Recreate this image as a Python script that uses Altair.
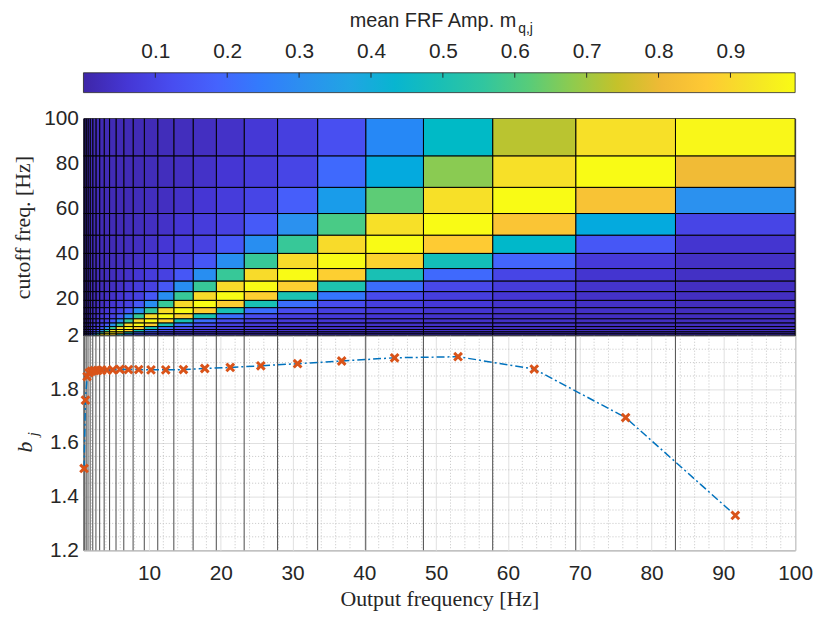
import altair as alt
import pandas as pd

# ---------------- data ----------------
# cell edges (output frequency on x, cutoff frequency on y), Hz
EDGES = [100.0, 83.33, 69.44, 57.87, 48.23, 40.19, 33.49, 27.91, 23.26, 19.38,
         16.15, 13.46, 11.22, 9.35, 7.79, 6.49, 5.41, 4.51, 3.76, 3.13,
         2.61, 2.17, 1.81, 1.51, 1.26, 1.05, 0.873]

# output frequencies (cell centres) and b_j values
CENTERS = [91.67, 76.39, 63.66, 53.05, 44.21, 36.84, 30.70, 25.58, 21.32, 17.77,
           14.80, 12.34, 10.28, 8.57, 7.14, 5.95, 4.96, 4.13, 3.44, 2.87,
           2.39, 1.99, 1.66, 1.38, 1.15, 0.96]
B_J = [1.33, 1.695, 1.876, 1.922, 1.918, 1.906, 1.896, 1.888, 1.882, 1.878,
       1.874, 1.873, 1.873, 1.874, 1.874, 1.875, 1.873, 1.872, 1.872, 1.871,
       1.870, 1.868, 1.862, 1.848, 1.76, 1.505]

# mean FRF amplitude m_{q,j}: one list per output-frequency column j
# (j = 0 is the 83-100 Hz column), rows q from the top (83-100 Hz cutoff) down
M_COLS = [
    [0.98, 0.81, 0.31, 0.10, 0.055, 0.04, 0.04, 0.035, 0.035, 0.03, 0.03, 0.03, 0.03,
     0.03, 0.03, 0.03, 0.03, 0.03, 0.03, 0.03, 0.03, 0.03, 0.03, 0.03, 0.03, 0.03],
    [0.92, 0.99, 0.84, 0.39, 0.15, 0.07, 0.055, 0.05, 0.045, 0.04, 0.04, 0.035, 0.035,
     0.03, 0.03, 0.03, 0.03, 0.03, 0.03, 0.03, 0.03, 0.03, 0.03, 0.03, 0.03, 0.03],
    [0.73, 0.92, 1.00, 0.85, 0.45, 0.19, 0.10, 0.075, 0.06, 0.05, 0.045, 0.04, 0.04,
     0.04, 0.035, 0.035, 0.03, 0.03, 0.03, 0.03, 0.03, 0.03, 0.03, 0.03, 0.03, 0.03],
    [0.46, 0.675, 0.92, 1.00, 0.87, 0.49, 0.20, 0.11, 0.08, 0.065, 0.055, 0.05, 0.045,
     0.04, 0.04, 0.04, 0.035, 0.035, 0.03, 0.03, 0.03, 0.03, 0.03, 0.03, 0.03, 0.03],
    [0.28, 0.39, 0.625, 0.92, 1.00, 0.89, 0.50, 0.21, 0.115, 0.085, 0.07, 0.06, 0.05,
     0.045, 0.04, 0.04, 0.04, 0.04, 0.035, 0.035, 0.03, 0.03, 0.03, 0.03, 0.03, 0.03],
    [0.13, 0.20, 0.34, 0.60, 0.91, 1.00, 0.88, 0.52, 0.23, 0.12, 0.085, 0.07, 0.06,
     0.05, 0.045, 0.04, 0.04, 0.04, 0.04, 0.04, 0.035, 0.035, 0.03, 0.03, 0.03, 0.03],
    [0.085, 0.10, 0.17, 0.31, 0.57, 0.91, 1.00, 0.88, 0.51, 0.21, 0.12, 0.085, 0.07,
     0.06, 0.05, 0.045, 0.04, 0.04, 0.04, 0.04, 0.04, 0.04, 0.04, 0.04, 0.04, 0.04],
    [0.065, 0.075, 0.10, 0.16, 0.30, 0.57, 0.91, 0.99, 0.88, 0.50, 0.21, 0.12, 0.085,
     0.07, 0.06, 0.05, 0.045, 0.04, 0.04, 0.04, 0.04, 0.04, 0.04, 0.04, 0.04, 0.04],
    [0.045, 0.06, 0.075, 0.09, 0.15, 0.30, 0.57, 0.91, 0.99, 0.88, 0.50, 0.21, 0.12,
     0.085, 0.07, 0.06, 0.05, 0.045, 0.04, 0.04, 0.04, 0.04, 0.04, 0.04, 0.04, 0.04],
    [0.035, 0.045, 0.06, 0.075, 0.09, 0.15, 0.30, 0.57, 0.91, 0.99, 0.88, 0.50, 0.21,
     0.12, 0.085, 0.07, 0.06, 0.05, 0.045, 0.04, 0.04, 0.04, 0.04, 0.04, 0.04, 0.04],
    [0.03, 0.035, 0.045, 0.06, 0.075, 0.09, 0.15, 0.30, 0.57, 0.91, 0.99, 0.88, 0.50,
     0.21, 0.12, 0.085, 0.07, 0.06, 0.05, 0.045, 0.04, 0.04, 0.04, 0.04, 0.04, 0.04],
    [0.025, 0.03, 0.035, 0.045, 0.06, 0.075, 0.09, 0.15, 0.30, 0.57, 0.91, 0.99, 0.88,
     0.50, 0.21, 0.12, 0.085, 0.07, 0.06, 0.05, 0.045, 0.04, 0.04, 0.04, 0.04, 0.04],
    [0.02, 0.025, 0.03, 0.035, 0.045, 0.06, 0.075, 0.09, 0.15, 0.30, 0.57, 0.91, 0.99,
     0.88, 0.50, 0.21, 0.12, 0.085, 0.07, 0.06, 0.05, 0.045, 0.04, 0.04, 0.04, 0.04],
    [0.02, 0.02, 0.025, 0.03, 0.035, 0.045, 0.06, 0.075, 0.09, 0.15, 0.30, 0.57, 0.91,
     0.99, 0.88, 0.50, 0.21, 0.12, 0.085, 0.07, 0.06, 0.05, 0.045, 0.04, 0.04, 0.04],
    [0.02, 0.02, 0.02, 0.025, 0.03, 0.035, 0.045, 0.06, 0.075, 0.09, 0.15, 0.30, 0.57,
     0.91, 0.99, 0.88, 0.50, 0.21, 0.12, 0.085, 0.07, 0.06, 0.05, 0.045, 0.04, 0.04],
    [0.02, 0.02, 0.02, 0.02, 0.025, 0.03, 0.035, 0.045, 0.06, 0.075, 0.09, 0.15, 0.30,
     0.57, 0.91, 0.99, 0.88, 0.50, 0.21, 0.12, 0.085, 0.07, 0.06, 0.05, 0.045, 0.04],
    [0.02, 0.02, 0.02, 0.02, 0.02, 0.025, 0.03, 0.035, 0.045, 0.06, 0.075, 0.09, 0.15,
     0.30, 0.57, 0.91, 0.99, 0.88, 0.50, 0.21, 0.12, 0.085, 0.07, 0.06, 0.05, 0.045],
    [0.02, 0.02, 0.02, 0.02, 0.02, 0.02, 0.025, 0.03, 0.035, 0.045, 0.06, 0.075, 0.09,
     0.15, 0.30, 0.57, 0.91, 0.99, 0.88, 0.50, 0.21, 0.12, 0.085, 0.07, 0.06, 0.05],
    [0.02, 0.02, 0.02, 0.02, 0.02, 0.02, 0.02, 0.025, 0.03, 0.035, 0.045, 0.06, 0.075,
     0.09, 0.15, 0.30, 0.57, 0.91, 0.99, 0.88, 0.50, 0.21, 0.12, 0.085, 0.07, 0.06],
    [0.02, 0.02, 0.02, 0.02, 0.02, 0.02, 0.02, 0.02, 0.025, 0.03, 0.035, 0.045, 0.06,
     0.075, 0.09, 0.15, 0.30, 0.57, 0.91, 0.99, 0.88, 0.50, 0.21, 0.12, 0.085, 0.07],
    [0.02, 0.02, 0.02, 0.02, 0.02, 0.02, 0.02, 0.02, 0.02, 0.025, 0.03, 0.035, 0.045,
     0.06, 0.075, 0.09, 0.15, 0.30, 0.57, 0.91, 0.99, 0.88, 0.50, 0.21, 0.12, 0.085],
    [0.02, 0.02, 0.02, 0.02, 0.02, 0.02, 0.02, 0.02, 0.02, 0.02, 0.025, 0.03, 0.035,
     0.045, 0.06, 0.075, 0.09, 0.15, 0.30, 0.57, 0.91, 0.99, 0.88, 0.50, 0.21, 0.12],
    [0.02, 0.02, 0.02, 0.02, 0.02, 0.02, 0.02, 0.02, 0.02, 0.02, 0.02, 0.025, 0.03,
     0.035, 0.045, 0.06, 0.075, 0.09, 0.15, 0.30, 0.57, 0.91, 0.99, 0.88, 0.50, 0.21],
    [0.02, 0.02, 0.02, 0.02, 0.02, 0.02, 0.02, 0.02, 0.02, 0.02, 0.02, 0.02, 0.025,
     0.03, 0.035, 0.045, 0.06, 0.075, 0.09, 0.15, 0.30, 0.57, 0.91, 0.99, 0.88, 0.50],
    [0.02, 0.02, 0.02, 0.02, 0.02, 0.02, 0.02, 0.02, 0.02, 0.02, 0.02, 0.02, 0.02,
     0.025, 0.03, 0.035, 0.045, 0.06, 0.075, 0.09, 0.15, 0.30, 0.57, 0.91, 0.99, 0.88],
    [0.02, 0.02, 0.02, 0.02, 0.02, 0.02, 0.02, 0.02, 0.02, 0.02, 0.02, 0.02, 0.02,
     0.02, 0.025, 0.03, 0.035, 0.045, 0.06, 0.075, 0.09, 0.15, 0.30, 0.57, 0.91, 0.99],
]

CB_TICKS = [0.1, 0.2, 0.3, 0.4, 0.5, 0.6, 0.7, 0.8, 0.9]
X_TICKS = [10, 20, 30, 40, 50, 60, 70, 80, 90, 100]
YT_TICKS = [20, 40, 60, 80, 100]
YB_TICKS = [1.2, 1.4, 1.6, 1.8, 2.0]
MINOR_X = [2, 4, 6, 8, 12, 14, 16, 18, 22, 24, 26, 28, 32, 34, 36, 38, 42, 44, 46, 48,
           52, 54, 56, 58, 62, 64, 66, 68, 72, 74, 76, 78, 82, 84, 86, 88, 92, 94, 96, 98]
MINOR_Y = [1.25, 1.3, 1.35, 1.45, 1.5, 1.55, 1.65, 1.7, 1.75, 1.85, 1.9, 1.95]

PARULA = ["#3e26a8", "#4537d5", "#484df0", "#4563fd", "#327cfc", "#2b91ef",
          "#20a5e3", "#08b5d0", "#19bfb6", "#31c69f", "#57cc7a", "#8fcb4e",
          "#c5c22a", "#f0ba36", "#fec934", "#f5e327", "#f9fb15"]

C_DOMAIN = [0.0, 0.99]
X_DOMAIN = [0.873, 100]
YT_DOMAIN = [3.7, 100]
YB_DOMAIN = [1.2, 2.0]

W = 717
SANS = "Liberation Sans"
SERIF = "Liberation Serif"
INK = "#262626"
LABEL_SIZE = 21

# ---------------- tables ----------------
rows = []
for j, col in enumerate(M_COLS):
    for q, v in enumerate(col):
        rows.append({"x1": EDGES[j + 1], "x2": EDGES[j],
                     "y1": EDGES[q + 1], "y2": EDGES[q], "m": v})
heat_df = pd.DataFrame(rows)
line_df = pd.DataFrame({"f": CENTERS, "b": B_J})

# ---------------- colour bar ----------------
cb_scale = alt.Scale(domain=C_DOMAIN, nice=False, zero=False)
cb_axis = alt.Axis(orient="top", values=CB_TICKS, title=None, labelPadding=11,
                   grid=False, ticks=False, domain=False, format=".1f", labelFlush=False)
grad = alt.LinearGradient(
    gradient="linear",
    stops=[alt.GradientStop(color=c, offset=i / (len(PARULA) - 1)) for i, c in enumerate(PARULA)],
    x1=0, x2=1, y1=0, y2=0)

cb_bar = alt.Chart(pd.DataFrame({"lo": [C_DOMAIN[0]], "hi": [C_DOMAIN[1]]})).mark_rect(
    color=grad, stroke=INK, strokeWidth=0.8
).encode(
    x=alt.X("lo:Q", scale=cb_scale, axis=cb_axis),
    x2="hi:Q",
    y=alt.value(0), y2=alt.value(20))

cb_ticks = alt.Chart(pd.DataFrame({"t": CB_TICKS})).mark_rule(color=INK, strokeWidth=1).encode(
    x=alt.X("t:Q", scale=cb_scale, axis=cb_axis), y=alt.value(0), y2=alt.value(5))

cb_title = alt.Chart(pd.DataFrame({"s": ["mean FRF Amp. m"]})).mark_text(
    align="right", baseline="alphabetic", font=SANS, fontSize=20, color=INK
).encode(x=alt.value(436), y=alt.value(-46), text="s:N")
cb_sub = alt.Chart(pd.DataFrame({"s": ["q,j"]})).mark_text(
    align="left", baseline="alphabetic", font=SANS, fontSize=14, color=INK
).encode(x=alt.value(438), y=alt.value(-40), text="s:N")

colorbar = alt.layer(cb_bar, cb_ticks, cb_title, cb_sub).properties(
    width=W, height=46, view=alt.ViewBackground(stroke="transparent"))

# ---------------- heat map ----------------
heat = alt.Chart(heat_df).mark_rect(stroke="black", strokeWidth=1, clip=True).encode(
    x=alt.X("x1:Q", scale=alt.Scale(domain=X_DOMAIN, nice=False, zero=False), axis=None),
    x2="x2:Q",
    y=alt.Y("y1:Q", scale=alt.Scale(domain=YT_DOMAIN, nice=False, zero=False),
            axis=alt.Axis(values=YT_TICKS, title="cutoff freq. [Hz]", grid=False,
                          labelPadding=5, titleX=-61, titleBaseline="middle")),
    y2="y2:Q",
    color=alt.Color("m:Q", scale=alt.Scale(domain=C_DOMAIN, range=PARULA, clamp=True),
                    legend=None),
).properties(width=W, height=219)

# ---------------- b_j line ----------------
xs = alt.Scale(domain=X_DOMAIN, nice=False, zero=False)
ys = alt.Scale(domain=YB_DOMAIN, nice=False, zero=False)
x_axis = alt.Axis(values=X_TICKS, title="Output frequency [Hz]", grid=True, gridColor="#e0e0e0",
                  labelPadding=13, titlePadding=5, format="d", labelFlush=False)
y_axis = alt.Axis(values=YB_TICKS, title=None, grid=True, gridColor="#e0e0e0", labelPadding=5,
                  labelExpr="datum.value >= 2 ? '2' : format(datum.value, '.1f')")

mgx = alt.Chart(pd.DataFrame({"v": MINOR_X})).mark_rule(
    color="#c4c4c4", strokeDash=[1, 2], strokeWidth=1
).encode(x=alt.X("v:Q", scale=xs, axis=x_axis))
mgy = alt.Chart(pd.DataFrame({"v": MINOR_Y})).mark_rule(
    color="#c4c4c4", strokeDash=[1, 2], strokeWidth=1
).encode(y=alt.Y("v:Q", scale=ys, axis=y_axis))
edge_rules = alt.Chart(pd.DataFrame({"e": EDGES[1:-1]})).mark_rule(
    color="#5a5a5a", strokeWidth=1.1
).encode(x=alt.X("e:Q", scale=xs, axis=x_axis))

line = alt.Chart(line_df).mark_line(
    color="#0072bd", strokeWidth=1.5, strokeDash=[8, 3, 2, 3]
).encode(x=alt.X("f:Q", scale=xs, axis=x_axis), y=alt.Y("b:Q", scale=ys, axis=y_axis))
pts = alt.Chart(line_df).mark_point(
    shape="M-1,-1L1,1M-1,1L1,-1", filled=False, color="#d95319", strokeWidth=3,
    size=60, opacity=1
).encode(x=alt.X("f:Q", scale=xs, axis=x_axis), y=alt.Y("b:Q", scale=ys, axis=y_axis))

bj_b = alt.Chart(pd.DataFrame({"s": ["b"]})).mark_text(
    font=SERIF, fontStyle="italic", fontSize=22, angle=270, color=INK,
    align="center", baseline="middle"
).encode(x=alt.value(-59), y=alt.value(112), text="s:N")
bj_j = alt.Chart(pd.DataFrame({"s": ["j"]})).mark_text(
    font=SERIF, fontStyle="italic", fontSize=15, angle=270, color=INK,
    align="center", baseline="middle"
).encode(x=alt.value(-51), y=alt.value(99), text="s:N")

bottom = alt.layer(mgx, mgy, edge_rules, line, pts, bj_b, bj_j).properties(width=W, height=216)

chart = alt.vconcat(colorbar, heat, bottom, spacing=0, bounds="flush").resolve_scale(
    x="independent", y="independent", color="independent"
).properties(
    padding={"left": 3, "top": 0, "right": 0, "bottom": 0}
).configure_axis(
    labelFont=SANS, labelFontSize=LABEL_SIZE, labelColor=INK,
    titleFont=SERIF, titleFontSize=22, titleColor=INK, titleFontWeight="normal",
    domain=False, ticks=False, labelFlush=False
).configure_view(stroke=INK, strokeWidth=1)

chart.save("out.html", embed_options={"renderer": "svg", "actions": False})
